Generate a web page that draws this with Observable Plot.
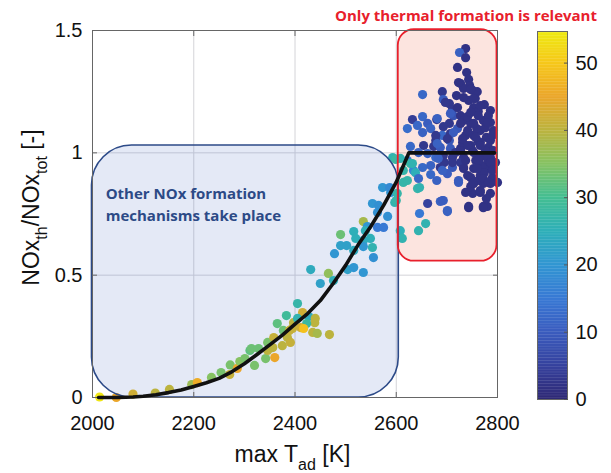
<!DOCTYPE html>
<html>
<head>
<meta charset="utf-8">
<script src="https://cdn.jsdelivr.net/npm/d3@7"></script>
<script src="https://cdn.jsdelivr.net/npm/@observablehq/plot@0.6"></script>
<style>
  body { margin: 0; background: #fff; }
  #wrap { position: relative; width: 611px; height: 473px; }
  #wrap svg { position: absolute; left: 0; top: 0; }
</style>
</head>
<body>
<div id="wrap"></div>
<script>
// Measured operating points: max adiabatic flame temperature [K],
// thermal share of NOx [-] and the colour-coded parameter.
const tad = [
  2014,2047,2080,2124,2152,2196,2207,2235,2254,2271,2272,2286,2291,2301,2311,2320,2328,2342,2346,2346,
  2356,2360,2365,2375,2377,2383,2385,2389,2391,2397,2405,
  2490,2490,2502,2478,2431,2466,2450,2476,2504,2415,2405,2427,2440,2439,2423,2411,2417,2395,2435,2444,
  2468,2358,2314,2535,
  2593,2622,2614,2614,2573,2589,2597,2553,2565,2563,2583,2535,2543,2563,2575,2516,2539,2608,2520,2549,
  2535,2535,2553,2516,2555,2612,2516,2599,2628,2634,2622,2642,2646,2587,2602,2600,2646,2658,2644,
  2737,2725,2737,2721,2739,2743,2727,2745,2733,2751,2760,2691,2652,2693,2705,2743,2753,2786,2762,2711,
  2713,2727,2652,2632,2680,2733,2772,2705,2662,2747,2786,2642,2693,2622,2668,2721,2766,2792,2652,2691,
  2737,2753,2778,2678,2705,2731,2766,2786,2628,2654,2674,2687,2707,2727,2751,2782,2792,2644,2662,2678,
  2693,2711,2733,2766,2786,2608,2632,2652,2668,2687,2711,2733,2753,2780,2792,2638,2668,2701,2741,2766,
  2790,2644,2723,2753,2772,2786,2800,2751,2766,2662,2687,2693,2743,2772,2780,2701,
  2762,2776,2757,2770,2747,2759,2782,2796,2774,2762,2747,2786,2778,2737,2727,2717,2741,2776,2790,2782,
  2756,2774,2719,2707,2695,2680,
  2723,2747,2733,2753,2697,2721,2766,2747,2762,2707,2681,2753,2780,2727,2741,2713,2678,2701,2731,2757,
  2681,2741,2766,2727,2753,2780,2683,2711,2737,2762,2786,2691,2733,2760,2790,2723,2747,2772,2751,2766,
  2782,2691,2701,2743,2772
];
const ratio = [
  0.002,0.000,0.014,0.018,0.033,0.053,0.061,0.082,0.102,0.094,0.133,0.119,0.147,0.159,0.192,0.131,0.200,0.159,0.225,0.192,
  0.204,0.163,0.302,0.212,0.274,0.335,0.245,0.274,0.225,0.306,0.384,
  0.666,0.621,0.621,0.588,0.523,0.507,0.466,0.478,0.523,0.347,0.323,0.331,0.323,0.306,0.302,0.286,0.282,0.282,0.266,0.262,
  0.257,0.245,0.200,0.511,
  0.981,0.969,0.928,0.879,0.858,0.838,0.797,0.793,0.785,0.756,0.740,0.719,0.699,0.695,0.695,0.678,0.682,0.682,0.650,0.650,
  0.642,0.617,0.613,0.601,0.572,0.650,0.531,0.973,0.956,0.928,0.887,0.854,0.858,0.858,0.834,0.805,0.752,0.711,0.682,
  1.426,1.410,1.389,1.349,1.328,1.300,1.283,1.275,1.263,1.255,1.250,1.250,1.238,1.218,1.201,1.214,1.185,1.173,1.169,1.177,
  1.152,1.152,1.148,1.136,1.136,1.132,1.132,1.120,1.120,1.120,1.124,1.112,1.107,1.099,1.099,1.099,1.091,1.091,1.083,1.071,
  1.071,1.071,1.063,1.050,1.050,1.042,1.042,1.050,1.026,1.030,1.026,1.022,1.018,1.018,1.009,1.022,1.009,1.001,0.997,0.981,
  0.989,0.981,0.981,0.981,0.981,0.977,0.956,0.940,0.948,0.940,0.940,0.940,0.936,0.940,0.936,0.919,0.911,0.915,0.907,0.907,
  0.899,0.895,0.879,0.875,0.875,0.875,0.879,0.834,0.838,0.793,0.801,0.805,0.781,0.781,0.781,0.760,
  1.046,1.009,0.969,0.948,1.030,1.099,0.969,0.960,0.919,0.887,0.862,0.834,0.813,0.838,0.960,1.001,1.148,1.103,1.071,1.152,
  1.222,1.197,1.234,1.079,0.960,0.887,
  1.287,1.259,1.226,1.222,1.206,1.185,1.193,1.165,1.152,1.161,1.140,1.120,1.124,1.120,1.091,1.083,1.071,1.058,1.058,1.063,
  1.038,1.030,1.030,1.009,1.001,0.989,0.977,0.960,0.969,0.969,0.960,0.928,0.936,0.936,0.928,0.887,0.899,0.895,0.875,0.846,
  0.879,0.805,0.764,0.776,0.776
];
const param = [
  54,45,42,40,40,37,46,35,34,41,34,45,35,34,32,34,33,34,34,40,
  40,45,32,40,33,29,40,41,41,40,27,
  33,22,22,20,24,36,22,25,22,42,26,24,40,40,28,42,49,41,40,38,
  40,41,33,20,
  26,15,27,27,20,20,26,20,19,19,19,38,20,15,15,25,25,25,25,25,
  24,20,26,24,19,26,20,28,28,18,27,27,26,18,27,27,15,26,26,
  2,11,2,2,2,2,2,2,2,2,2,3,12,10,3,2,2,2,2,3,
  8,2,12,4,3,2,2,3,10,2,2,12,3,13,11,9,2,2,11,12,
  2,2,2,3,9,2,2,2,12,3,3,10,9,2,2,2,2,11,11,12,
  3,3,2,2,2,26,26,12,11,3,9,2,2,2,2,25,12,10,2,2,
  2,12,10,2,2,2,2,2,2,5,11,11,2,2,2,11,
  2,2,2,2,2,2,2,2,2,2,2,2,2,2,3,3,2,2,2,2,
  2,2,2,3,3,11,
  2,2,2,2,3,2,2,2,2,10,11,2,2,2,2,10,3,3,2,2,
  11,2,2,2,2,2,11,3,2,2,2,11,2,2,2,10,2,2,2,2,
  2,10,11,2,2
];

// Fitted trend of the thermal share
const fitT = [2012,2050,2080,2100,2125,2150,2175,2200,2225,2250,2275,2300,2325,2350,2375,2400,2425,2450,2475,2500,2525,2550,2575,2600,2625,2700,2794];
const fitR = [0,0,0.002,0.005,0.011,0.02,0.031,0.045,0.06,0.078,0.105,0.138,0.176,0.215,0.255,0.30,0.343,0.396,0.465,0.54,0.625,0.70,0.785,0.88,1.0,1.0,1.0];

// Highlighted regimes
const regimeName = ["other", "thermal"];
const regimeT1 = [1999, 2604];
const regimeT2 = [2605, 2799];
const regimeR1 = [0, 0.557];
const regimeR2 = [1.03, 1.503];
const noteT = [2026];
const noteR = [0.877];
const noteText = ["Other NOx formation\nmechanisms take place"];

// Axes
const xTicks = [2000, 2200, 2400, 2600, 2800];
const yTicks = [0, 0.5, 1, 1.5];
const cTicks = [0, 10, 20, 30, 40, 50];
const cMax = 54.7;

// Colour map
const cStops = [0, 5, 10, 15, 20, 25, 30, 35, 40, 45, 50, 54.7];
const cColors = ["#2e2874","#36429e","#3a5cbe","#3879d4","#3196d2","#2eafb8","#44be92","#86c262","#bcb33e","#eba62a","#f6c81a","#eeea12"];

const points = tad.map((t, i) => ({t, r: ratio[i], c: param[i]}));
const fit = fitT.map((t, i) => ({t, r: fitR[i]}));
const regimes = regimeName.map((n, i) => ({n, x1: regimeT1[i], x2: regimeT2[i], y1: regimeR1[i], y2: regimeR2[i]}));
const other = regimes.filter(d => d.n === "other");
const thermal = regimes.filter(d => d.n === "thermal");
const notes = noteText.map((s, i) => ({t: noteT[i], r: noteR[i], s}));

const colorScale = {type: "linear", domain: cStops, range: cColors};
const font = "'Liberation Sans', Arial, sans-serif";
const noteFont = "'Open Sans', sans-serif";
const blueEdge = "#2c4a88";
const redEdge = "#e8202c";

const main = Plot.plot({
  width: 611, height: 473,
  marginLeft: 92, marginRight: 114, marginTop: 30, marginBottom: 76,
  x: {domain: [2000, 2800]},
  y: {domain: [0, 1.5]},
  color: colorScale,
  style: {fontFamily: font, fontSize: "20px", color: "#111", background: "transparent", overflow: "visible"},
  marks: [
    Plot.gridX(xTicks, {stroke: "#d4d4d8", strokeOpacity: 1}),
    Plot.gridY(yTicks, {stroke: "#d4d4d8", strokeOpacity: 1}),
    Plot.rect(other, {x1: "x1", x2: "x2", y1: "y1", y2: "y2", fill: "#5a78c8", fillOpacity: 0.16, rx: 40, ry: 40}),
    Plot.rect(thermal, {x1: "x1", x2: "x2", y1: "y1", y2: "y2", fill: "#f06040", fillOpacity: 0.17, rx: 16, ry: 16}),
    Plot.dot(points, {x: "t", y: "r", fill: "c", r: 4.6}),
    Plot.rect(other, {x1: "x1", x2: "x2", y1: "y1", y2: "y2", fill: "none", stroke: blueEdge, strokeWidth: 1.6, rx: 40, ry: 40}),
    Plot.rect(thermal, {x1: "x1", x2: "x2", y1: "y1", y2: "y2", fill: "none", stroke: redEdge, strokeWidth: 1.8, rx: 16, ry: 16}),
    Plot.frame({stroke: "#666"}),
    Plot.axisX(xTicks, {anchor: "bottom", tickSize: -5, stroke: "#666", tickFormat: () => "", label: null}),
    Plot.axisX(xTicks, {anchor: "top", tickSize: -5, stroke: "#666", tickFormat: () => "", label: null}),
    Plot.axisY(yTicks, {anchor: "left", tickSize: -5, stroke: "#666", tickFormat: () => "", label: null}),
    Plot.axisY(yTicks, {anchor: "right", tickSize: -5, stroke: "#666", tickFormat: () => "", label: null}),
    Plot.axisX(xTicks, {anchor: "bottom", tickSize: 0, tickPadding: 18, fontSize: 20, label: null, tickFormat: d => String(d)}),
    Plot.axisY(yTicks, {anchor: "left", tickSize: 0, tickPadding: 10, fontSize: 20, label: null, tickFormat: d => String(d)}),
    Plot.line(fit, {x: "t", y: "r", stroke: "#111", strokeWidth: 3.6}),
    Plot.text(notes, {x: "t", y: "r", text: "s", textAnchor: "start", lineAnchor: "top", lineHeight: 1.47,
      fontSize: 15, fontWeight: "bold", fontFamily: noteFont, fill: "#2c4a86"})
  ]
});

// Colour bar
const step = cMax / 240;
const ramp = d3.range(0, cMax, step);
const bar = Plot.plot({
  width: 611, height: 473,
  marginLeft: 537, marginRight: 44, marginTop: 31, marginBottom: 74,
  x: {domain: [0, 1], axis: null},
  y: {domain: [0, cMax]},
  color: colorScale,
  style: {fontFamily: font, fontSize: "20px", color: "#111", background: "transparent", overflow: "visible"},
  marks: [
    Plot.rect(ramp, {x1: 0, x2: 1, y1: d => d, y2: d => Math.min(cMax, d + step * 1.2), fill: d => d + step / 2}),
    Plot.frame({stroke: "#666"}),
    Plot.axisY(cTicks, {anchor: "right", tickSize: -4, stroke: "#555", tickFormat: () => "", label: null}),
    Plot.axisY(cTicks, {anchor: "right", tickSize: 0, tickPadding: 8, fontSize: 20, label: null, tickFormat: d => String(d)})
  ]
});

const wrap = document.getElementById("wrap");
wrap.appendChild(main);
wrap.appendChild(bar);

// Axis titles with subscripts and the regime heading
const svg = d3.select(main);
const xs = main.scale("x"), ys = main.scale("y");
const xCenter = xs.apply(2400) - 2;
const yCenter = (ys.apply(0) + ys.apply(1.5)) / 2 - 6;

const xl = svg.append("text")
  .attr("x", xCenter).attr("y", 462).attr("text-anchor", "middle")
  .attr("fill", "#111").style("font-family", font).style("font-size", "23px");
xl.append("tspan").text("max T");
xl.append("tspan").attr("dy", 8).style("font-size", "16px").text("ad");
xl.append("tspan").attr("dy", -8).text(" [K]");

const yl = svg.append("text")
  .attr("transform", `translate(38.5,${yCenter}) rotate(-90)`).attr("text-anchor", "middle")
  .attr("fill", "#111").style("font-family", font).style("font-size", "23px");
yl.append("tspan").text("NOx");
yl.append("tspan").attr("dy", 8).style("font-size", "16px").text("th");
yl.append("tspan").attr("dy", -8).text("/NOx");
yl.append("tspan").attr("dy", 8).style("font-size", "16px").text("tot");
yl.append("tspan").attr("dy", -8).text(" [-]");

d3.select(bar).append("text")
  .attr("x", 597).attr("y", 20.5).attr("text-anchor", "end")
  .attr("fill", redEdge).style("font-family", noteFont).style("font-weight", "bold").style("font-size", "15px")
  .text("Only thermal formation is relevant");
</script>
</body>
</html>
